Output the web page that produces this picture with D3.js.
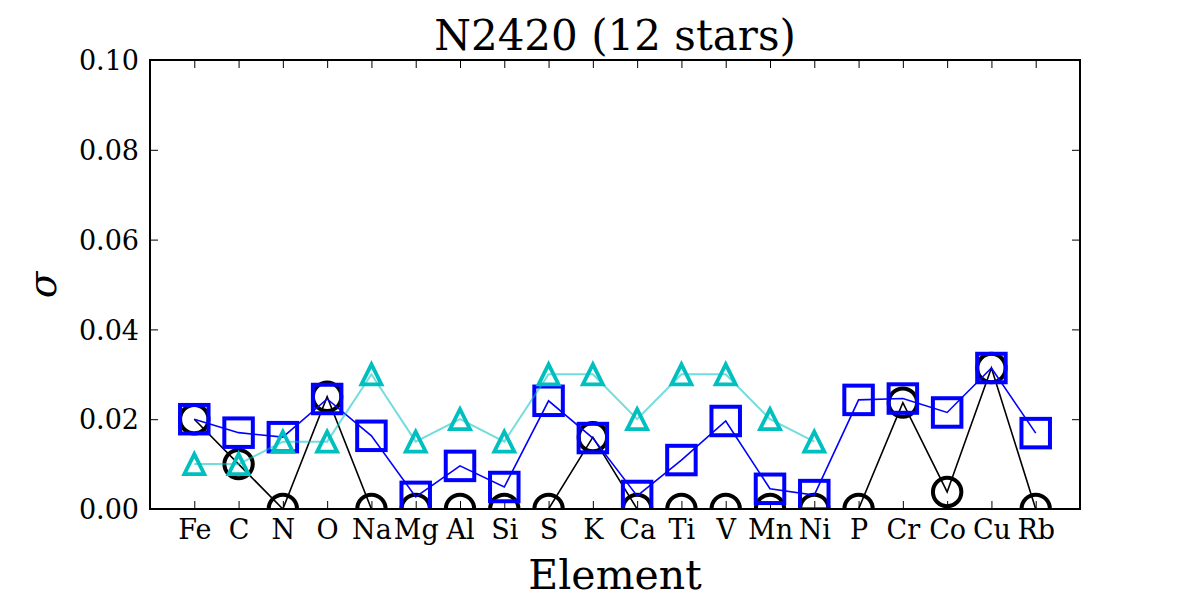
<!DOCTYPE html>
<html>
<head>
<meta charset="utf-8">
<script src="https://cdn.jsdelivr.net/npm/d3@7"></script>
<style>
  html, body { margin: 0; padding: 0; background: #fff; }
  svg { display: block; }
  text { font-family: "DejaVu Serif", serif; fill: #000; }
</style>
</head>
<body>
<svg id="chart" width="1200" height="600"></svg>
<script>
const elements = ["Fe","C","N","O","Na","Mg","Al","Si","S","K","Ca","Ti","V","Mn","Ni","P","Cr","Co","Cu","Rb"];
const circleVals = [0.020,0.010,0,0.025,0,0,0,0,0,0.016,0,0,0,0,0,0,0.0237,0.0038,0.0314,0];
const squareVals = [0.020,0.017,0.016,0.0245,0.0163,0.0027,0.0096,0.0049,0.0241,0.0158,0.0029,0.0109,0.0196,0.0045,0.0031,0.0243,0.0246,0.0215,0.0314,0.0169];
const triangleVals = [0.010,0.010,0.015,0.015,0.030,0.015,0.020,0.015,0.030,0.030,0.020,0.030,0.030,0.020,0.015];
const yTicks = [0.00,0.02,0.04,0.06,0.08,0.10];

const svg = d3.select("#chart");
const L = 150, R = 1080, T = 60, B = 509;
const x = d3.scaleLinear().domain([-1, 20]).range([L, R]);
const y = d3.scaleLinear().domain([0, 0.10]).range([B, T]);

svg.append("defs").append("clipPath").attr("id","clip")
  .append("rect").attr("x",L).attr("y",T).attr("width",R-L).attr("height",B-T);

const xAxis = d3.axisBottom(x).tickValues(d3.range(elements.length)).tickSize(-8).tickFormat(i => elements[i]).tickPadding(10);
const gx = svg.append("g").attr("transform",`translate(0,${B})`).call(xAxis);
gx.select(".domain").remove();
gx.selectAll(".tick line").attr("stroke","#000").attr("stroke-width",1);
gx.selectAll(".tick text").attr("font-size",27).attr("font-family","DejaVu Serif").attr("dy","0.75em").attr("y",10);

const yAxis = d3.axisLeft(y).tickValues(yTicks).tickSize(-8).tickFormat(d3.format(".2f")).tickPadding(11);
const gy = svg.append("g").attr("transform",`translate(${L},0)`).call(yAxis);
gy.select(".domain").remove();
gy.selectAll(".tick line").attr("stroke","#000").attr("stroke-width",1);
gy.selectAll(".tick text").attr("font-size",27).attr("font-family","DejaVu Serif").attr("dy","0.36em");

const yAxisR = d3.axisRight(y).tickValues(yTicks).tickSize(-8).tickFormat("");
const gyr = svg.append("g").attr("transform",`translate(${R},0)`).call(yAxisR);
gyr.select(".domain").remove();
gyr.selectAll(".tick line").attr("stroke","#000").attr("stroke-width",1);

const xAxisT = d3.axisTop(x).tickValues(d3.range(elements.length)).tickSize(-8).tickFormat("");
const gxt = svg.append("g").attr("transform",`translate(0,${T})`).call(xAxisT);
gxt.select(".domain").remove();
gxt.selectAll(".tick line").attr("stroke","#000").attr("stroke-width",1);

const plot = svg.append("g").attr("clip-path","url(#clip)");
const line = d3.line().x((d,i)=>x(i)).y(d=>y(d));

// black circles
plot.append("path").datum(circleVals).attr("d",line).attr("fill","none").attr("stroke","#000").attr("stroke-width",1.6);
plot.selectAll("circle.c").data(circleVals).enter().append("circle")
  .attr("cx",(d,i)=>x(i)).attr("cy",d=>y(d)).attr("r",14.2)
  .attr("fill","none").attr("stroke","#000").attr("stroke-width",4);

// blue squares
plot.append("path").datum(squareVals).attr("d",line).attr("fill","none").attr("stroke","#0000ff").attr("stroke-width",1.6);
const s = 28.5;
plot.selectAll("rect.s").data(squareVals).enter().append("rect")
  .attr("x",(d,i)=>x(i)-s/2).attr("y",d=>y(d)-s/2).attr("width",s).attr("height",s)
  .attr("fill","none").attr("stroke","#0000ff").attr("stroke-width",4);

// cyan triangles
plot.append("path").datum(triangleVals).attr("d",line).attr("fill","none").attr("stroke","#00bfbf").attr("stroke-opacity",0.55).attr("stroke-width",2);
const h = 10;
plot.selectAll("path.t").data(triangleVals).enter().append("path")
  .attr("d",(d,i)=>{const cx=x(i), cy=y(d); return `M${cx},${cy-h}L${cx-h},${cy+h}L${cx+h},${cy+h}Z`;})
  .attr("fill","none").attr("stroke","#00bfbf").attr("stroke-width",3.8).attr("stroke-linejoin","miter");

// frame
svg.append("rect").attr("x",L).attr("y",T).attr("width",R-L).attr("height",B-T)
  .attr("fill","none").attr("stroke","#000").attr("stroke-width",2);

// labels
svg.append("text").attr("x",(L+R)/2).attr("y",50).attr("text-anchor","middle").attr("font-size",42).text("N2420 (12 stars)");
svg.append("text").attr("x",(L+R)/2).attr("y",589).attr("text-anchor","middle").attr("font-size",41).text("Element");
svg.append("text").attr("transform","translate(56,285) rotate(-90)").attr("text-anchor","middle").attr("font-size",39).attr("font-style","italic").text("σ");
</script>
</body>
</html>
